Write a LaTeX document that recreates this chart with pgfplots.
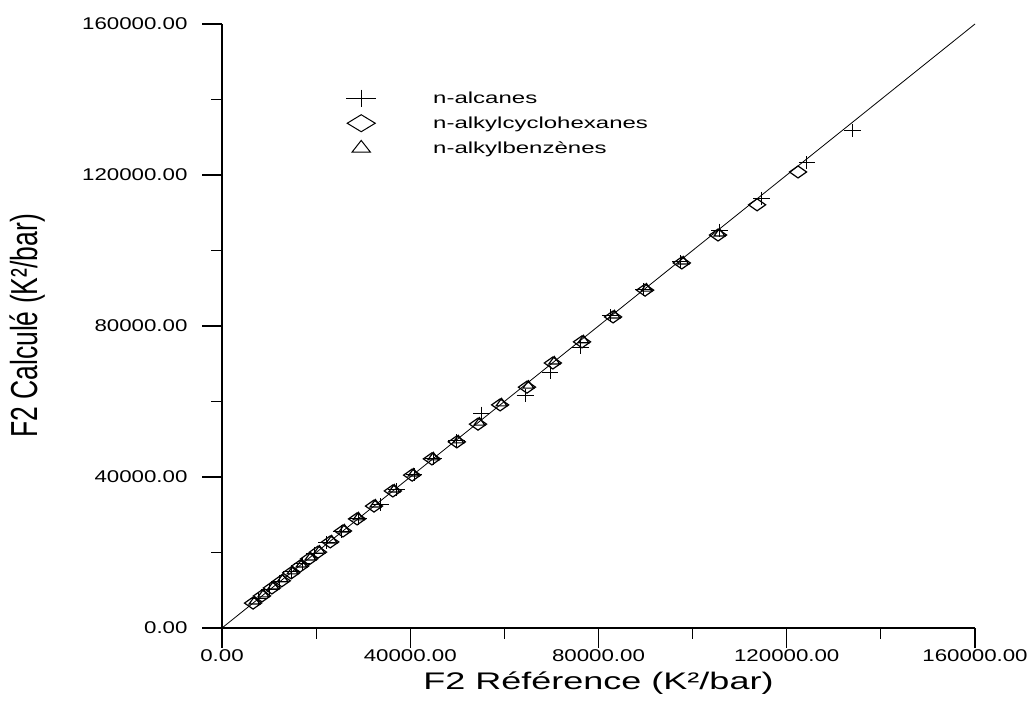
\documentclass[border=0pt]{standalone}
\usepackage{fontspec}
\setmainfont{Liberation Sans}
\usepackage{graphicx}
\usepackage{pgfplots}
\usepackage{pgfplotstable}
\pgfplotsset{compat=1.18}

% horizontally widened text, as in the original figure
\newcommand\tk[1]{\scalebox{1.31}[1]{#1}}
\newcommand\legtext[1]{\scalebox{1.5}[1]{#1}}

% F2 reference vs. computed values (K^2/bar)
\pgfplotstableread{
x y
7800 7900
10000 10200
12300 12400
14700 14900
17000 17100
19600 19800
22300 22600
25300 25600
29000 29000
33600 32600
37000 36600
40800 40600
45000 44800
49800 49600
55200 56900
64400 61700
69700 67800
76100 74200
82500 82700
89500 89600
97500 97000
105800 105400
114700 113900
124300 123200
133900 131900
}\alcanes

\pgfplotstableread{
x y
6600 6600
8500 8500
10600 10600
12700 12500
14700 14600
16600 16400
18500 18300
20400 20100
23000 22800
25700 25700
28700 28900
32300 32300
36300 36300
40400 40500
44600 44800
49900 49300
54400 54000
59100 59100
64800 63800
70300 70200
76500 75800
83100 82400
89900 89500
97700 96700
105400 104100
113700 112100
122400 120800
}\cyclohexanes

\pgfplotstableread{
x y
6900 7000
8800 8900
10900 11000
12900 12900
15000 15000
16900 16800
18800 18700
20700 20500
23300 23200
26000 26100
29000 29300
32600 32700
36600 36700
40700 40900
44900 45200
50200 49700
54700 54400
59400 59500
65100 64200
70600 70600
76800 76200
83400 82800
90200 89900
98000 97100
105700 104500
}\benzenes

\begin{document}
\begin{tikzpicture}[x=1pt,y=1pt]
\path[use as bounding box] (0,0) rectangle (1031,708);
\begin{axis}[
  at={(222pt,80pt)}, anchor=south west,
  scale only axis, width=753pt, height=604pt,
  xmin=0, xmax=160000, ymin=0, ymax=160000,
  axis lines=left,
  axis line style={-, line width=1.3pt},
  scaled ticks=false,
  xtick={0,40000,80000,120000,160000},
  xticklabels={\tk{0.00},\tk{40000.00},\tk{80000.00},\tk{120000.00},\tk{160000.00}},
  minor xtick={20000,60000,100000,140000},
  ytick={0,40000,80000,120000,160000},
  yticklabels={\tk{0.00},\tk{40000.00},\tk{80000.00},\tk{120000.00},\tk{160000.00}},
  minor ytick={20000,60000,100000,140000},
  tick align=outside,
  major tick length=20pt, minor tick length=11pt,
  every tick/.style={black, line width=1.1pt},
  ticklabel style={font=\fontsize{17}{17}\selectfont},
  xticklabel style={yshift=2pt},
  yticklabel style={xshift=-11pt},
  xlabel={\scalebox{1.5}[1]{F2 Référence (K²/bar)}},
  ylabel={\scalebox{1}[1.42]{F2 Calculé (K²/bar)}},
  label style={font=\fontsize{24}{24}\selectfont},
  x label style={at={(axis description cs:0.5,-0.091)}, anchor=center},
  y label style={at={(axis description cs:-0.2576,0.5)}, anchor=center,
    font=\fontsize{26.5}{26.5}\selectfont},
  clip=false,
  legend style={draw=none, fill=none, at={(axis cs:25290,143300)}, anchor=north west,
    font=\fontsize{16}{16}\selectfont, row sep=7pt,
    nodes={inner sep=0pt},
    /tikz/every odd column/.append style={column sep=55pt}},
  legend cell align=left,
  legend image code/.code={\path[draw=none, fill=none] (-17pt,-9pt) rectangle (17pt,9pt);
    \draw[#1] plot coordinates {(0pt,0pt)};},
]
% legend symbols (drawn larger than the data marks)
\addlegendimage{only marks, mark=+, mark size=8.5pt, mark options={xscale=1.76, line width=0.8pt}}
\addlegendentry{\legtext{n-alcanes}}
\addlegendimage{only marks, mark=diamond, mark size=8.5pt, mark options={xscale=2.2, line width=1pt}}
\addlegendentry{\legtext{n-alkylcyclohexanes}}
\addlegendimage{only marks, mark=triangle, mark size=7.8pt, mark options={xscale=1.36, line width=1pt}}
\addlegendentry{\legtext{n-alkylbenzènes}}

% y = x reference line
\addplot[black, line width=0.8pt, forget plot] coordinates {(0,0) (160000,160000)};

\addplot[only marks, mark=diamond, mark size=6pt, mark options={xscale=1.9, line width=1.2pt}, forget plot] table {\cyclohexanes};
\addplot[only marks, mark=triangle, mark size=5pt, mark options={xscale=1.25, line width=1.2pt}, forget plot] table {\benzenes};
\addplot[only marks, mark=+, mark size=6.5pt, mark options={xscale=1.3, line width=1pt}, forget plot] table {\alcanes};
\end{axis}
\end{tikzpicture}
\end{document}
